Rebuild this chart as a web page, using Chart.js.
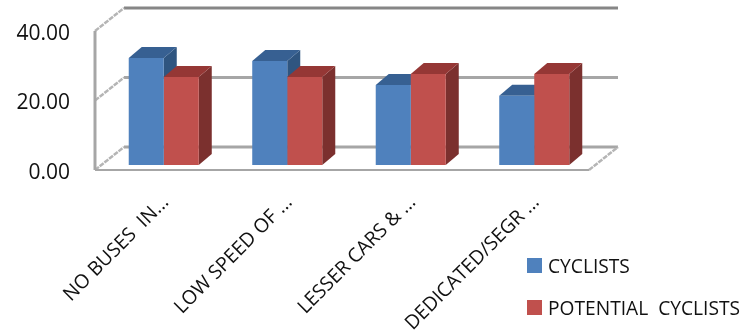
<!DOCTYPE html>
<html>
<head>
<meta charset="utf-8">
<style>
  html, body { margin: 0; padding: 0; background: #fff; }
  canvas { display: block; }
</style>
<script src="https://cdn.jsdelivr.net/npm/chart.js@4"></script>
</head>
<body>
<canvas id="chart" width="751" height="336"></canvas>
<script>
const categories = ['NO BUSES  IN...', 'LOW SPEED OF ...', 'LESSER CARS & ...', 'DEDICATED/SEGR ...'];
const cyclists = [30.8, 29.9, 23.0, 19.9];
const potentialCyclists = [25.3, 25.3, 26.2, 26.2];

const fontName = '"Open Sans", sans-serif';

// floor depth of the box, and how far into it the bars stand
const boxDepth = { x: 29, y: -23 };
const barShift = { x: 7, y: -5 };
const barDepth = { x: 13, y: -11 };

function line(ctx, x1, y1, x2, y2) {
  ctx.beginPath();
  ctx.moveTo(x1, y1);
  ctx.lineTo(x2, y2);
  ctx.stroke();
}

function face(ctx, color, points) {
  ctx.fillStyle = color;
  ctx.beginPath();
  points.forEach((p, i) => (i ? ctx.lineTo(p[0], p[1]) : ctx.moveTo(p[0], p[1])));
  ctx.closePath();
  ctx.fill();
}

const box3d = {
  id: 'box3d',
  beforeDatasetsDraw(chart) {
    const { ctx, chartArea, scales } = chart;
    const { left, right, bottom, top } = chartArea;
    ctx.save();

    // back wall lines and the slanted ones on the left wall
    scales.y.ticks.forEach((tick) => {
      const y = scales.y.getPixelForValue(tick.value);
      ctx.setLineDash([]);
      ctx.lineWidth = 3;
      ctx.strokeStyle = tick.value === 40 ? '#868686' : '#a6a6a6';
      line(ctx, left + boxDepth.x, y + boxDepth.y, right + boxDepth.x, y + boxDepth.y);
      ctx.setLineDash([5, 1]);
      ctx.lineWidth = 2.5;
      ctx.strokeStyle = '#b5b5b5';
      line(ctx, left, y, left + boxDepth.x, y + boxDepth.y);
    });
    line(ctx, right, bottom, right + boxDepth.x, bottom + boxDepth.y);

    // front edges
    ctx.setLineDash([]);
    ctx.lineWidth = 2;
    ctx.strokeStyle = '#a6a6a6';
    line(ctx, left, bottom, right, bottom);
    ctx.lineWidth = 3;
    line(ctx, left, bottom, left, top);
    ctx.restore();

    // bars stay shifted until afterDatasetsDraw
    ctx.save();
    ctx.translate(barShift.x, barShift.y);
    chart.data.datasets.forEach((ds, i) => {
      chart.getDatasetMeta(i).data.forEach((bar) => {
        const x1 = bar.x - bar.width / 2;
        const x2 = bar.x + bar.width / 2;
        const dx = barDepth.x;
        const dy = barDepth.y;
        face(ctx, ds.sideColor, [[x2, bar.y], [x2 + dx, bar.y + dy], [x2 + dx, bar.base + dy], [x2, bar.base]]);
        face(ctx, ds.topColor, [[x1, bar.y], [x1 + dx, bar.y + dy], [x2 + dx, bar.y + dy], [x2, bar.y]]);
      });
    });
  },
  afterDatasetsDraw(chart) {
    chart.ctx.restore();
  },
  afterDraw(chart) {
    // legend sits low on the right, under the box
    const { ctx } = chart;
    const rows = [[527, 258], [527, 300]];
    ctx.save();
    ctx.font = '19.2px ' + fontName;
    ctx.textBaseline = 'middle';
    chart.data.datasets.forEach((ds, i) => {
      const [x, y] = rows[i];
      ctx.fillStyle = ds.backgroundColor;
      ctx.fillRect(x, y, 15, 15);
      ctx.fillStyle = '#111';
      ctx.fillText(ds.label, x + 21, y + 10);
    });
    ctx.restore();
  }
};

new Chart(document.getElementById('chart'), {
  type: 'bar',
  data: {
    labels: categories,
    datasets: [
      {
        label: 'CYCLISTS',
        data: cyclists,
        backgroundColor: '#4f81bd',
        topColor: '#376092',
        sideColor: '#2f5580'
      },
      {
        label: 'POTENTIAL  CYCLISTS',
        data: potentialCyclists,
        backgroundColor: '#c0504d',
        topColor: '#953735',
        sideColor: '#7b302e'
      }
    ]
  },
  options: {
    responsive: false,
    animation: false,
    layout: { padding: { top: 31, right: 162, left: 0, bottom: 0 } },
    plugins: { legend: { display: false }, tooltip: { enabled: false } },
    datasets: { bar: { categoryPercentage: 0.567, barPercentage: 1 } },
    scales: {
      x: {
        grid: { display: false, drawTicks: false },
        border: { display: false },
        afterFit(scale) {
          scale.height = 166;
          scale.paddingTop = 0;
          scale.paddingBottom = 0;
        },
        ticks: {
          color: '#111',
          font: { family: fontName, size: 19.5 },
          autoSkip: false,
          minRotation: 45,
          maxRotation: 45,
          padding: 21,
          labelOffset: 9
        }
      },
      y: {
        min: 0,
        max: 40,
        grid: { display: false, drawTicks: false },
        border: { display: false },
        afterFit(scale) {
          scale.width = 95;
          scale.paddingTop = 0;
          scale.paddingBottom = 0;
        },
        ticks: {
          stepSize: 20,
          color: '#111',
          font: { family: fontName, size: 21 },
          padding: 25,
          labelOffset: 3,
          callback: (v) => v.toFixed(2)
        }
      }
    }
  },
  plugins: [box3d]
});
</script>
</body>
</html>
